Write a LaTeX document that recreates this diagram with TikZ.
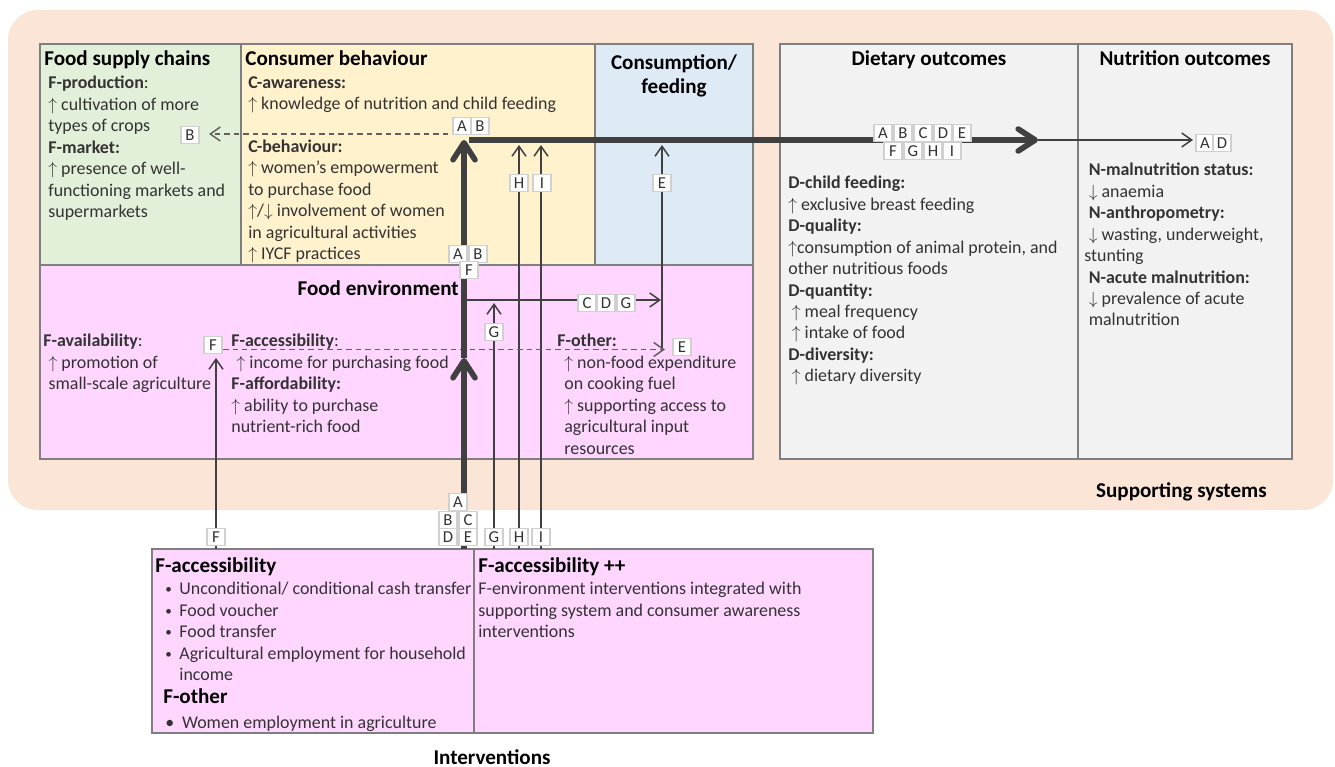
\documentclass[tikz,border=0pt]{standalone}
\usepackage{fontspec}
\setmainfont{Carlito}
\usetikzlibrary{arrows.meta}
\definecolor{peach}{HTML}{FBE5D6}
\definecolor{grn}{HTML}{E2F0D9}
\definecolor{ylw}{HTML}{FFF2CC}
\definecolor{blu}{HTML}{DEEBF7}
\definecolor{pnk}{HTML}{FFD6FF}
\definecolor{gry}{HTML}{F2F2F2}
\definecolor{edgec}{HTML}{7F7F7F}
\definecolor{arrc}{HTML}{404040}
\definecolor{dashc}{HTML}{606060}
\definecolor{lblc}{HTML}{D0D0D0}
\definecolor{txtc}{HTML}{333333}
\newcommand{\UA}{\ensuremath{\uparrow}}
\newcommand{\DA}{\ensuremath{\downarrow}}
\newcommand{\mybul}{\makebox[8pt][l]{\raisebox{0.6pt}{\fontsize{7.5}{8}\selectfont\textbullet}}}
\begin{document}
\begin{tikzpicture}[x=0.02cm,y=-0.02cm,
  region/.style={draw=edgec,line width=1.1pt},
  body/.style={font=\fontsize{10.2}{12.2}\selectfont,text=txtc,align=left,inner sep=0pt,anchor=north west,execute at begin node=\strut},
  ttl/.style={font=\bfseries\fontsize{12}{13.6}\selectfont,text=black,inner sep=0pt},
  ttlb/.style={font=\bfseries\fontsize{12}{14}\selectfont,text=black,inner sep=0pt,anchor=base west},
  lbl/.style={draw=lblc,fill=white,line width=0.7pt,minimum width=0.36cm,minimum height=0.34cm,inner sep=0pt,font=\fontsize{9.5}{10}\selectfont,text=txtc},
  thinln/.style={draw=arrc,line width=0.85pt},
  thickln/.style={draw=arrc,line width=3.2pt},
  tipthin/.style={-{Straight Barb[length=0.2cm,width=0.28cm]}},
  tipthick/.style={-{Straight Barb[round,length=0.34cm,width=0.44cm]}},
  dashln/.style={draw=dashc,line width=0.85pt,dash pattern=on 0.11cm off 0.08cm}]
\useasboundingbox (0,0) rectangle (1335,767);
% supporting systems background
\fill[peach,rounded corners=0.6cm] (8,10) rectangle (1333,510);
% regions
\path[region,fill=grn] (40,44) rectangle (241,265);
\path[region,fill=ylw] (241,44) rectangle (595,265);
\path[region,fill=blu] (595,44) rectangle (753,265);
\path[region,fill=pnk] (40,265) rectangle (753,459);
\path[region,fill=gry] (780,44) rectangle (1078,459);
\path[region,fill=gry] (1078,44) rectangle (1292,459);
\path[region,fill=pnk] (152,549) rectangle (474,733);
\path[region,fill=pnk] (474,549) rectangle (873,733);

% titles
\node[ttl,anchor=base west] (tfsc) at (44,66) {Food supply chains};
\node[ttl,anchor=base west] (tcb) at (245,66) {Consumer behaviour};
\node[ttl,anchor=north,align=center,execute at begin node=\strut] (tcf) at (674,54) {Consumption/\\feeding};
\node[ttl,anchor=base east] (tfe) at (459,295) {Food environment};
\node[ttl,anchor=base] (tdo) at (929,66) {Dietary outcomes};
\node[ttl,anchor=base] (tno) at (1185,66) {Nutrition outcomes};
\node[ttl,anchor=base east] (tss) at (1267,497) {Supporting systems};
\node[ttl,anchor=base] (tiv) at (492,764) {Interventions};

% body texts
\node[body] (bfsc) at (48,76) {\textbf{F-production}:\\
\UA\ cultivation of more\\
types of crops\\
\textbf{F-market:}\\
\UA\ presence of well-\\
functioning markets and\\
supermarkets};
\node[body] (bcb) at (248,76) {\textbf{C-awareness:}\\
\UA\ knowledge of nutrition and child feeding\\
\mbox{}\\
\textbf{C-behaviour:}\\
\UA\ women's empowerment\\
to purchase food\\
\UA/\DA\ involvement of women\\
in agricultural activities\\
\UA\ IYCF practices};
\node[body] (bfav) at (43,334) {\textbf{F-availability}:\\
\hspace*{3pt}\UA\ promotion of\\
\hspace*{3pt}small-scale agriculture};
\node[body] (bfac) at (231,334) {\textbf{F-accessibility}:\\
\hspace*{3pt}\UA\ income for purchasing food\\
\textbf{F-affordability:}\\
\UA\ ability to purchase\\
nutrient-rich food};
\node[body] (bfot) at (557,334) {\textbf{F-other:}\\
\hspace*{4pt}\UA\ non-food expenditure\\
\hspace*{4pt}on cooking fuel\\
\hspace*{4pt}\UA\ supporting access to\\
\hspace*{4pt}agricultural input\\
\hspace*{4pt}resources};
\node[body] (bdo) at (788,176) {\textbf{D-child feeding:}\\
\UA\ exclusive breast feeding\\
\textbf{D-quality:}\\
\UA consumption of animal protein, and\\
other nutritious foods\\
\textbf{D-quantity:}\\
\hspace*{2pt}\UA\ meal frequency\\
\hspace*{2pt}\UA\ intake of food\\
\textbf{D-diversity:}\\
\hspace*{2pt}\UA\ dietary diversity};
\node[body] (bno) at (1084,163) {\hspace*{2.5pt}\textbf{N-malnutrition status:}\\
\hspace*{2.5pt}\DA\ anaemia\\
\hspace*{2.5pt}\textbf{N-anthropometry:}\\
\hspace*{2.5pt}\DA\ wasting, underweight,\\
stunting\\
\hspace*{2.5pt}\textbf{N-acute malnutrition:}\\
\hspace*{2.5pt}\DA\ prevalence of acute\\
\hspace*{2.5pt}malnutrition};

% interventions texts
\node[ttlb] (ti1) at (155,572) {F-accessibility};
\node[body] (bi1) at (165,582) {\mybul Unconditional/ conditional cash transfer\\
\mybul Food voucher\\
\mybul Food transfer\\
\mybul Agricultural employment for household\\
\makebox[8pt]{}income};
\node[ttlb] (ti2) at (163,703) {F-other};
\node[body] (bi3) at (165,713) {\makebox[9.5pt][l]{\textbullet}Women employment in agriculture};
\node[ttlb] (ti4) at (478,572) {F-accessibility ++};
\node[body] (bi4) at (478,582) {F-environment interventions integrated with\\
supporting system and consumer awareness\\
interventions};

% coordinates
\coordinate (bt) at (464,549);
\coordinate (tm) at (464,358);
\coordinate (tt) at (464,140);
\coordinate (hs) at (469,140);
\coordinate (he) at (1038,140);
\coordinate (ad) at (1193,140);
\coordinate (dbs) at (467,134);
\coordinate (dbe) at (209,134);
\coordinate (fb) at (216,549);
\coordinate (ft) at (216,358);
\coordinate (gb) at (494,549);
\coordinate (gt) at (494,303);
\coordinate (hb) at (519,549);
\coordinate (ht) at (519,145);
\coordinate (ib) at (541,549);
\coordinate (it) at (541,145);
\coordinate (eb) at (662,349);
\coordinate (et) at (662,145);
\coordinate (cs) at (466,300);
\coordinate (ce) at (661,300);
\coordinate (dfs) at (223,349.5);
\coordinate (dfe) at (665,349.5);

% connectors
\draw[thinln,tipthin] (fb) -- (ft);
\draw[thinln,tipthin] (gb) -- (gt);
\draw[thinln,tipthin] (hb) -- (ht);
\draw[thinln,tipthin] (ib) -- (it);
\draw[thinln,tipthin] (eb) -- (et);
\draw[thinln,tipthin] (cs) -- (ce);
\draw[dashln,tipthin] (dfs) -- (dfe);
\draw[dashln,tipthin] (dbs) -- (dbe);
\draw[thickln,tipthick] (bt) -- (tm);
\draw[thickln,tipthick] (tm) -- (tt);
\draw[thickln,tipthick] (hs) -- (he);
\draw[thinln,tipthin] (he) -- (ad);

% labels
\node[lbl] (tA) at (462,126) {A};
\node[lbl] (tB) at (480,126) {B};
\node[lbl] (lB) at (190,135) {B};
\node[lbl] (H1) at (519,183) {H};
\node[lbl] (I1) at (542,183) {I};
\node[lbl] (E1) at (662,183) {E};
\node[lbl] (mA) at (458,254) {A};
\node[lbl] (mB) at (478,254) {B};
\node[lbl] (mF) at (469,270) {F};
\node[lbl] (C1) at (587,303) {C};
\node[lbl] (D1) at (606,303) {D};
\node[lbl] (G1) at (626,303) {G};
\node[lbl] (G2) at (494,332) {G};
\node[lbl] (lF) at (213,345) {F};
\node[lbl] (lE) at (682,347) {E};
\node[lbl] (oA) at (883,133) {A};
\node[lbl] (oB) at (903,133) {B};
\node[lbl] (oC) at (923,133) {C};
\node[lbl] (oD) at (943,133) {D};
\node[lbl] (oE) at (962,133) {E};
\node[lbl] (oF) at (893,151) {F};
\node[lbl] (oG) at (913,151) {G};
\node[lbl] (oH) at (933,151) {H};
\node[lbl] (oI) at (952,151) {I};
\node[lbl] (nA) at (1205,143) {A};
\node[lbl] (nD) at (1222,143) {D};
\node[lbl] (bA) at (458,502) {A};
\node[lbl] (bB) at (448,520) {B};
\node[lbl] (bC) at (468,520) {C};
\node[lbl] (bD) at (448,537) {D};
\node[lbl] (bE) at (468,537) {E};
\node[lbl] (bG) at (494,537) {G};
\node[lbl] (bH) at (519,537) {H};
\node[lbl] (bI) at (541,537) {I};
\node[lbl] (bF) at (216,537) {F};
\end{tikzpicture}
\end{document}
